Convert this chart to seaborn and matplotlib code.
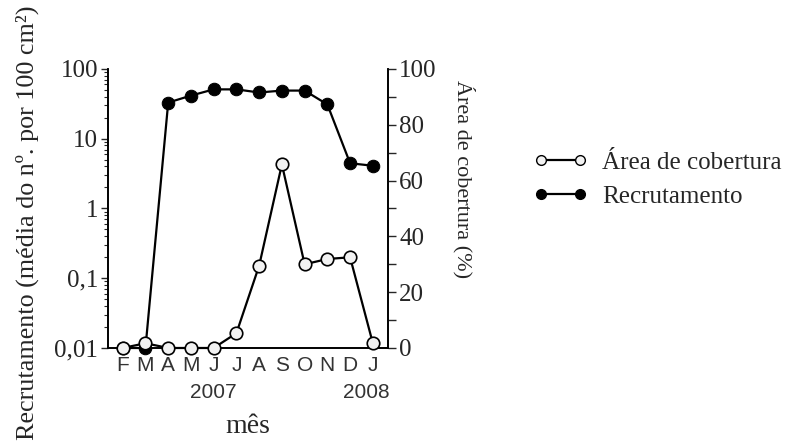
import matplotlib
matplotlib.use('Agg')
import matplotlib.pyplot as plt
import matplotlib.transforms as mtransforms
import seaborn as sns
from matplotlib.lines import Line2D
from matplotlib.ticker import LogLocator, MultipleLocator, NullFormatter

# data
months = ['F', 'M', 'A', 'M', 'J', 'J', 'A', 'S', 'O', 'N', 'D', 'J']
recrutamento = [0.01, 0.01, 33, 41.5, 51, 51, 46, 49, 49, 31, 4.45, 4.1]
cobertura = [0, 1.7, 0, 0, 0, 5.3, 29.5, 65.8, 30, 31.9, 32.5, 1.7]
year_labels = ['2007', '2008']
year_pos = [4, 10.7]
left_ticks = [0.01, 0.1, 1, 10, 100]
left_ticklabels = ['0,01', '0,1', '1', '10', '100']
right_ticks = [0, 20, 40, 60, 80, 100]

sns.set_style('ticks')
plt.rcParams['font.family'] = ['Liberation Serif', 'DejaVu Serif']

fig = plt.figure(figsize=(7.92, 4.45), dpi=100)
ax = fig.add_axes([0.136, 0.218, 0.354, 0.627])
ax2 = ax.twinx()

x = list(range(len(months)))

# Recrutamento: filled circles on the log axis
sns.lineplot(x=x, y=recrutamento, ax=ax, color='black', lw=1.6, marker='o',
             markersize=9, markerfacecolor='black', markeredgecolor='black',
             clip_on=False, zorder=3)
# Area de cobertura: open circles on the % axis
sns.lineplot(x=x, y=cobertura, ax=ax2, color='black', lw=1.6, marker='o',
             markersize=9, markerfacecolor='#f2f2f2', markeredgecolor='black',
             markeredgewidth=1.2, clip_on=False, zorder=3)

ax.set_yscale('log')
ax.set_ylim(0.01, 100)
ax2.set_ylim(0, 100)
ax.set_xlim(-0.66, 11.67)

ax.set_yticks(left_ticks)
ax.set_yticklabels(left_ticklabels)
ax.yaxis.set_minor_locator(LogLocator(base=10, subs=range(2, 10)))
ax.yaxis.set_minor_formatter(NullFormatter())
ax2.set_yticks(right_ticks)
ax2.set_yticklabels([str(t) for t in right_ticks])
ax2.yaxis.set_minor_locator(MultipleLocator(10))

ax.set_xticks(x)
ax.set_xticklabels(months, fontfamily='Liberation Sans', fontsize=15, color='#333333')
ax.tick_params(axis='x', length=0, pad=5.5)
ax.tick_params(axis='y', which='major', direction='out', length=5, width=1, labelsize=18, pad=2)
ax.tick_params(axis='y', which='minor', direction='out', length=3, width=0.8)
ax2.tick_params(axis='y', which='major', direction='out', length=6, width=1, labelsize=18, pad=2)
ax2.tick_params(axis='y', which='minor', direction='out', length=6, width=1)

for a in (ax, ax2):
    a.spines['top'].set_visible(False)
    for s in ('left', 'right', 'bottom'):
        a.spines[s].set_linewidth(1.2)
        a.spines[s].set_color('black')
ax2.set_ylabel('')
ax.set_ylabel('')

trans = mtransforms.blended_transform_factory(ax.transData, ax.transAxes)
for pos, lab in zip(year_pos, year_labels):
    ax.text(pos, -0.158, lab, transform=trans, ha='center', va='center',
            fontfamily='Liberation Sans', fontsize=15, color='#333333')

ax.set_xlabel('mês', fontsize=20)
ax.xaxis.set_label_coords(0.5, -0.28)
ax.xaxis.label.set_va('center')

fig.text(0.035, 0.5, 'Recrutamento (média do nº. por 100 cm²)', rotation=90,
         ha='center', va='center', fontsize=18.8)
fig.text(0.585, 0.82, 'Área de cobertura (%)', rotation=-90,
         ha='center', va='top', fontsize=16)

handles = [
    Line2D([0], [0], color='black', lw=1.6, marker='o', markersize=7,
           markerfacecolor='#f2f2f2', markeredgecolor='black'),
    Line2D([0], [0], color='black', lw=1.6, marker='o', markersize=7,
           markerfacecolor='black', markeredgecolor='black'),
]
fig.legend(handles, ['Área de cobertura', 'Recrutamento'], loc='upper left',
           bbox_to_anchor=(0.673, 0.66), frameon=False, numpoints=2,
           handlelength=2.16, handletextpad=0.6, labelspacing=0.45,
           borderpad=0, borderaxespad=0, fontsize=18)

fig.savefig('out.png', dpi=100)
